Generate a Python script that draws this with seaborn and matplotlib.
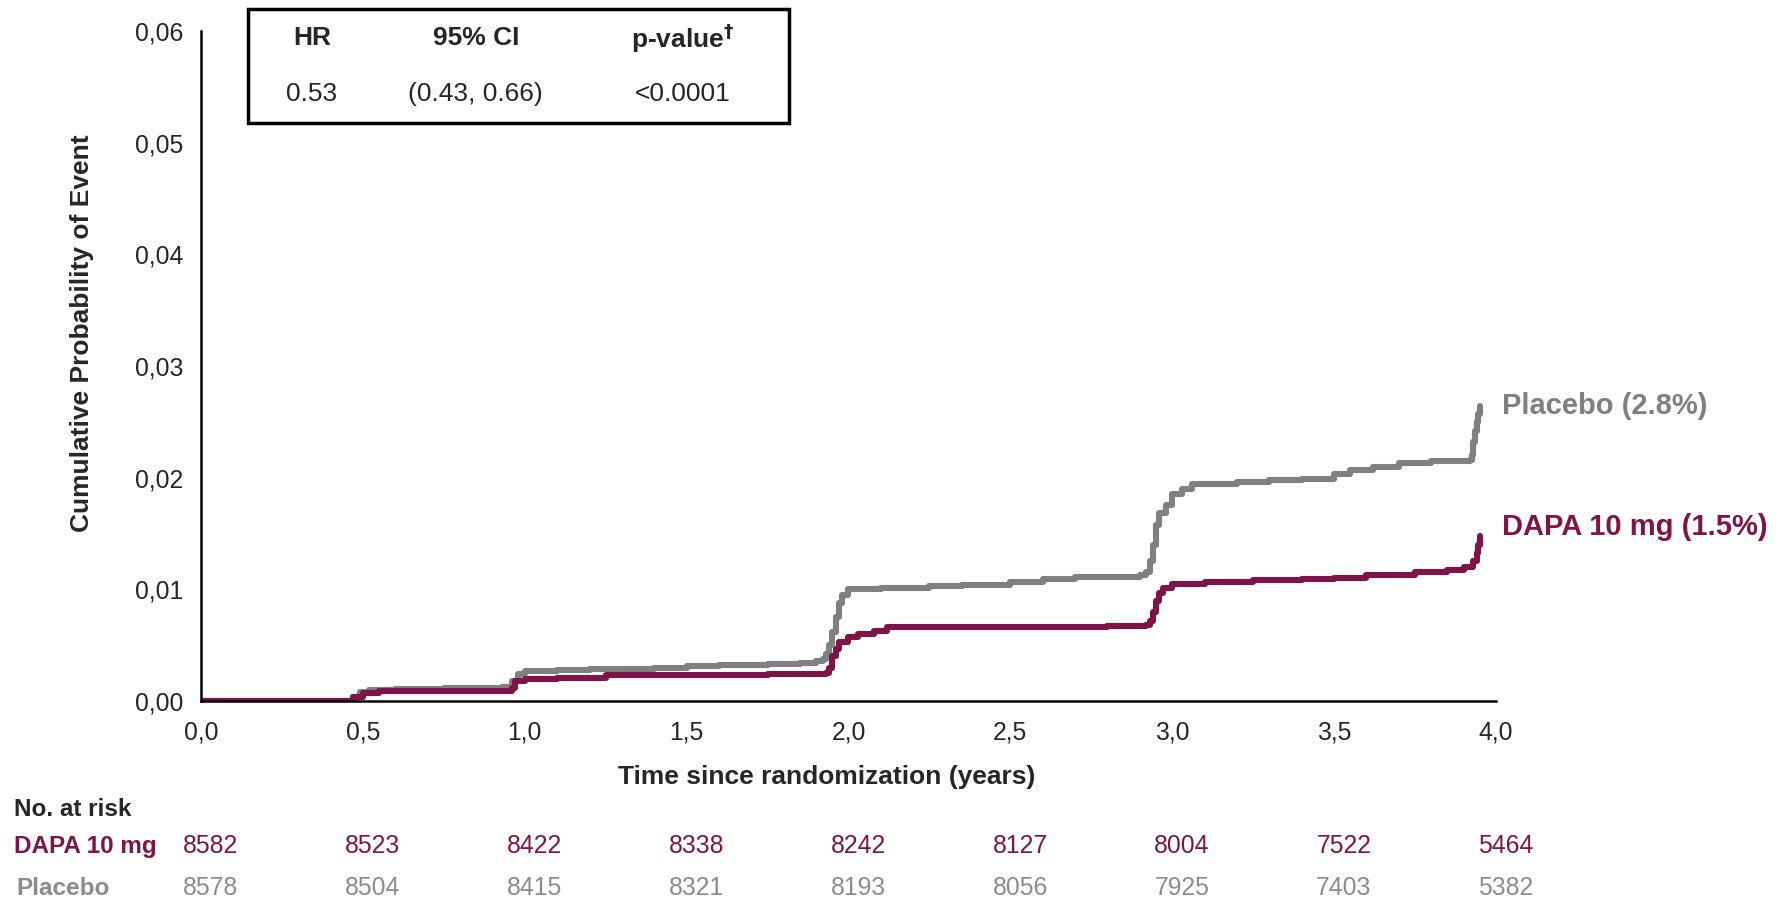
import numpy as np
import pandas as pd
import seaborn as sns
import matplotlib.pyplot as plt
from matplotlib.patches import Rectangle
from matplotlib.transforms import blended_transform_factory

sns.set_style('white')
plt.rcParams['font.family'] = ['Liberation Sans', 'DejaVu Sans']
plt.rcParams['axes.unicode_minus'] = False

# 색상
DAPA_COLOR = '#7f1449'
PBO_COLOR = '#808080'
PBO_TEXT = '#8c8c8c'

# 누적 사건 확률 =================================================
pbo_time = [0, 0.45, 0.47, 0.49, 0.52, 0.6, 0.75, 0.93, 0.96, 0.98, 1.0, 1.1, 1.2,
            1.4, 1.5, 1.6, 1.75, 1.85, 1.9, 1.92, 1.93, 1.94, 1.95, 1.96, 1.97, 1.98,
            2.0, 2.1, 2.25, 2.35, 2.5, 2.6, 2.7, 2.9, 2.92, 2.93, 2.94, 2.95, 2.96,
            2.98, 3.0, 3.03, 3.06, 3.2, 3.3, 3.4, 3.5, 3.55, 3.62, 3.7, 3.8, 3.92,
            3.925, 3.93, 3.935, 3.94, 3.945, 3.95]
pbo_prob = [0, 0, 0.0004, 0.0008, 0.0010, 0.0011, 0.0012, 0.0013, 0.0018, 0.0024, 0.0027,
            0.0028, 0.0029, 0.0030, 0.0031, 0.0032, 0.0033, 0.0034, 0.0036, 0.0038,
            0.0042, 0.0050, 0.0062, 0.0075, 0.0088, 0.0095, 0.0100, 0.0101, 0.0103,
            0.0104, 0.0107, 0.0109, 0.0111, 0.0113, 0.0116, 0.0125, 0.0140, 0.0158,
            0.0168, 0.0176, 0.0185, 0.0190, 0.0194, 0.0196, 0.0198, 0.0199, 0.0203,
            0.0207, 0.0210, 0.0213, 0.0215, 0.0216, 0.0220, 0.0232, 0.0242, 0.0250,
            0.0257, 0.0264]

dapa_time = [0, 0.45, 0.47, 0.5, 0.55, 0.93, 0.96, 0.97, 1.0, 1.1, 1.25, 1.75, 1.93,
             1.94, 1.95, 1.96, 1.97, 2.0, 2.03, 2.08, 2.12, 2.5, 2.8, 2.92, 2.93, 2.94,
             2.95, 2.96, 2.97, 3.0, 3.1, 3.25, 3.4, 3.5, 3.6, 3.75, 3.85, 3.9, 3.93,
             3.94, 3.945, 3.95]
dapa_prob = [0, 0, 0.0004, 0.0007, 0.0009, 0.0009, 0.0012, 0.0018, 0.0020, 0.0021,
             0.0023, 0.0024, 0.0025, 0.0030, 0.0040, 0.0047, 0.0053, 0.0057, 0.0060,
             0.0063, 0.0066, 0.0066, 0.0067, 0.0068, 0.0072, 0.0080, 0.0090, 0.0097,
             0.0101, 0.0105, 0.0107, 0.0108, 0.0109, 0.0110, 0.0113, 0.0116, 0.0117,
             0.0120, 0.0125, 0.0133, 0.0140, 0.0148]

# 위험군 수
risk_times = [0, 0.5, 1.0, 1.5, 2.0, 2.5, 3.0, 3.5, 4.0]
dapa_risk = [8582, 8523, 8422, 8338, 8242, 8127, 8004, 7522, 5464]
pbo_risk = [8578, 8504, 8415, 8321, 8193, 8056, 7925, 7403, 5382]

x_ticks = [0, 0.5, 1.0, 1.5, 2.0, 2.5, 3.0, 3.5, 4.0]
y_ticks = [0, 0.01, 0.02, 0.03, 0.04, 0.05, 0.06]

km = pd.concat([
    pd.DataFrame({'time': pbo_time, 'prob': pbo_prob, 'arm': 'Placebo'}),
    pd.DataFrame({'time': dapa_time, 'prob': dapa_prob, 'arm': 'DAPA 10 mg'}),
])

# 그래프 ==============================================================
fig = plt.figure(figsize=(17.82, 9), dpi=100)
ax = fig.add_axes([0.1128, 0.221, 0.7267, 0.7446])

sns.lineplot(data=km, x='time', y='prob', hue='arm', estimator=None,
             palette={'Placebo': PBO_COLOR, 'DAPA 10 mg': DAPA_COLOR},
             drawstyle='steps-post', linewidth=4.4, legend=False, ax=ax)

ax.set_xlim(0, 4.0)
ax.set_ylim(0, 0.06)
ax.set_xticks(x_ticks)
ax.set_xticklabels([f'{t:.1f}'.replace('.', ',') for t in x_ticks])
ax.set_yticks(y_ticks)
ax.set_yticklabels([f'{v:.2f}'.replace('.', ',') for v in y_ticks])
ax.tick_params(axis='both', labelsize=17.8, length=6, width=1.5, direction='out', color='black')
ax.tick_params(axis='y', pad=7)
ax.tick_params(axis='x', pad=8)
ax.set_xlabel('')
ax.set_ylabel('')
for side in ['top', 'right']:
    ax.spines[side].set_visible(False)
for side in ['left', 'bottom']:
    ax.spines[side].set_color('black')
    ax.spines[side].set_linewidth(1.8)

fig.text(0.464, 0.137, 'Time since randomization (years)', fontsize=19,
         fontweight='bold', ha='center', va='center')
fig.text(0.046, 0.63, 'Cumulative Probability of Event', fontsize=19,
         fontweight='bold', ha='center', va='center', rotation=90)

# 곡선 끝 라벨
ax.text(pbo_time[-1] + 0.07, pbo_prob[-1], 'Placebo (2.8%)', color=PBO_COLOR,
        fontsize=21, fontweight='bold', va='center', ha='left', clip_on=False)
ax.text(dapa_time[-1] + 0.07, dapa_prob[-1] + 0.0008, 'DAPA 10 mg (1.5%)', color=DAPA_COLOR,
        fontsize=21, fontweight='bold', va='center', ha='left', clip_on=False)

# HR 박스
fig.patches.append(Rectangle((0.139, 0.863), 0.304, 0.127, transform=fig.transFigure,
                             fill=False, edgecolor='black', linewidth=2.5))
hdr_x = [0.175, 0.267, 0.383]
fig.text(hdr_x[0], 0.958, 'HR', fontsize=19, fontweight='bold', ha='center', va='center')
fig.text(hdr_x[1], 0.958, '95% CI', fontsize=19, fontweight='bold', ha='center', va='center')
fig.text(hdr_x[2], 0.958, 'p-value$^{\\mathbf{\u2020}}$', fontsize=19, fontweight='bold',
         ha='center', va='center')
fig.text(hdr_x[0], 0.896, '0.53', fontsize=19, ha='center', va='center')
fig.text(hdr_x[1], 0.896, '(0.43, 0.66)', fontsize=19, ha='center', va='center')
fig.text(hdr_x[2], 0.896, '<0.0001', fontsize=19, ha='center', va='center')

# 위험군 표
trans = blended_transform_factory(ax.transData, fig.transFigure)
fig.text(0.008, 0.1, 'No. at risk', fontsize=17.5, fontweight='bold', ha='left', va='center')
fig.text(0.008, 0.06, 'DAPA 10 mg', fontsize=17.5, fontweight='bold', color=DAPA_COLOR,
         ha='left', va='center')
fig.text(0.009, 0.0133, 'Placebo', fontsize=17.5, fontweight='bold', color=PBO_TEXT,
         ha='left', va='center')
for t, d, p in zip(risk_times, dapa_risk, pbo_risk):
    ax.text(t + 0.03, 0.06, str(d), transform=trans, fontsize=17.8, color=DAPA_COLOR,
            ha='center', va='center', clip_on=False)
    ax.text(t + 0.03, 0.0133, str(p), transform=trans, fontsize=17.8, color=PBO_TEXT,
            ha='center', va='center', clip_on=False)

plt.savefig('out.png', dpi=100)
